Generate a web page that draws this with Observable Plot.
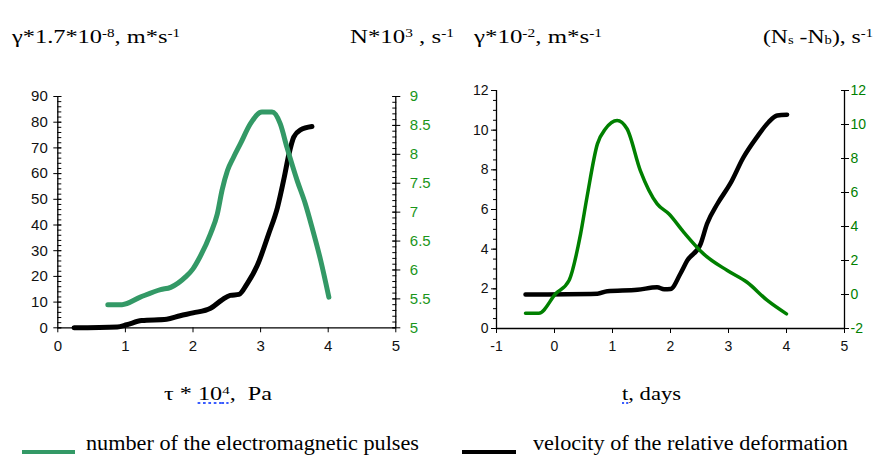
<!DOCTYPE html>
<html><head><meta charset="utf-8">
<script src="https://cdn.jsdelivr.net/npm/d3@7"></script>
<script src="https://cdn.jsdelivr.net/npm/@observablehq/plot@0.6"></script>
<style>
body{margin:0;background:#fff;}
#wrap{position:relative;width:893px;height:465px;overflow:hidden;background:#fff;font-family:"Liberation Serif","Times New Roman",serif;color:#000;}
.t{position:absolute;white-space:nowrap;transform-origin:0 0;}
.h{font-size:19px;line-height:19px;top:27px;}
.a{font-size:18px;line-height:18px;top:385px;}
.l{font-size:20px;line-height:20px;top:433px;}
.t sup{font-size:0.62em;vertical-align:0.5em;line-height:0;}
.t sub{font-size:0.62em;vertical-align:-0.05em;line-height:0;}
.sq{text-decoration:underline dotted #3a5cff;text-underline-offset:3px;}
.sw{position:absolute;height:4px;top:450px;}
#p1{position:absolute;left:0;top:80px;}
#p2{position:absolute;left:450px;top:80px;}
</style></head>
<body>
<div id="wrap">
  <div class="t h" data-w="168" style="left:12px">γ*1.7*10<sup>-8</sup>, m*s<sup>-1</sup></div>
  <div class="t h" data-w="104" style="left:350px">N*10<sup>3</sup> , s<sup>-1</sup></div>
  <div class="t h" data-w="128" style="left:474px">γ*10<sup>-2</sup>, m*s<sup>-1</sup></div>
  <div class="t h" data-w="110" style="left:763px">(N<sub>s</sub> -N<sub>b</sub>), s<sup>-1</sup></div>
  <div id="p1"></div>
  <div id="p2"></div>
  <div class="t a" data-w="108" style="left:164px">τ * <span class="sq">10<sup>4</sup></span>,&nbsp; Pa</div>
  <div class="t a" data-w="59" style="left:622px"><span class="sq">t</span>, days</div>
  <div class="sw" style="left:22px;width:53px;background:#339966"></div>
  <div class="t l" data-w="333" style="left:86px">number of the electromagnetic pulses</div>
  <div class="sw" style="left:462px;width:54px;background:#000"></div>
  <div class="t l" data-w="315" style="left:533px">velocity of the relative deformation</div>
</div>
<script>
// ---- Left panel data: tau*10^4, Pa ----
const tauPulses = [0.74, 0.95, 1.22, 1.52, 1.67, 1.89, 2.0, 2.1, 2.26, 2.36, 2.43, 2.51, 2.6, 2.7, 2.85, 3.02, 3.17, 3.29, 3.39, 3.54, 3.66, 3.76, 3.89, 4.01];
const pulsesN = [5.40, 5.40, 5.53, 5.66, 5.70, 5.88, 6.02, 6.22, 6.63, 6.97, 7.38, 7.72, 7.95, 8.18, 8.53, 8.73, 8.73, 8.53, 8.12, 7.55, 7.15, 6.74, 6.16, 5.53];
const tauVel = [0.24, 0.88, 1.02, 1.24, 1.61, 1.81, 2.0, 2.26, 2.43, 2.55, 2.68, 2.80, 2.95, 3.12, 3.25, 3.35, 3.42, 3.49, 3.59, 3.76];
const velGamma1 = [0, 0.3, 1.2, 2.8, 3.3, 4.7, 5.8, 7.6, 10.9, 12.6, 13.0, 17.1, 24.2, 36.6, 46.9, 58.6, 67.7, 74.2, 77.0, 78.3];
// ---- Right panel data: t, days ----
const dayPulses = [-0.5, -0.27, 0.02, 0.25, 0.45, 0.56, 0.74, 0.88, 1.08, 1.25, 1.48, 1.77, 1.97, 2.23, 2.57, 2.98, 3.32, 3.67, 4.0];
const pulsesDiff = [-1.1, -1.1, 0.04, 0.82, 3.57, 5.72, 8.86, 9.75, 10.24, 9.75, 7.29, 5.33, 4.75, 3.66, 2.39, 1.41, 0.72, -0.35, -1.14];
const dayVel = [-0.5, 0.74, 0.91, 1.43, 1.77, 1.89, 2.0, 2.17, 2.29, 2.52, 2.63, 2.81, 3.03, 3.26, 3.49, 3.69, 3.84, 4.01];
const velGamma2 = [1.71, 1.75, 1.88, 1.95, 2.08, 1.98, 1.99, 2.76, 3.43, 4.27, 5.28, 6.29, 7.30, 8.64, 9.65, 10.4, 10.74, 10.78];
// ---- Tick values ----
const x1Ticks = [0, 1, 2, 3, 4, 5];
const y1Ticks = [0, 10, 20, 30, 40, 50, 60, 70, 80, 90];
const y1Minor = d3.range(0, 91, 2);
const r1Ticks = [5, 5.5, 6, 6.5, 7, 7.5, 8, 8.5, 9];
const r1Minor = d3.range(50, 91).map(i => i / 10);
const x2Ticks = [-1, 0, 1, 2, 3, 4, 5];
const y2Ticks = [0, 2, 4, 6, 8, 10, 12];
const y2Minor = d3.range(0, 25).map(i => i / 2);
const r2Ticks = [-2, 0, 2, 4, 6, 8, 10, 12];

const fmt = v => String(+v.toFixed(2));
const font1 = {fontFamily: "'Liberation Sans', Arial, sans-serif", fontSize: "15px", color: "#000", background: "#fff", overflow: "visible"};
const font2 = {fontFamily: "'Liberation Sans', Arial, sans-serif", fontSize: "14px", color: "#000", background: "#fff", overflow: "visible"};

// secondary axis mappings
const map1 = d3.scaleLinear([5, 9], [0, 90]);
const map2 = d3.scaleLinear([-2, 12], [0, 12]);

const left = Plot.plot({
  width: 440, height: 290,
  marginLeft: 57.3, marginRight: 44.7, marginTop: 16, marginBottom: 42.7,
  x: {domain: [0, 5]},
  y: {domain: [0, 90]},
  style: font1,
  marks: [
    Plot.ruleY([0], {stroke: "#000", strokeWidth: 1.3}),
    Plot.ruleX([0], {stroke: "#000", strokeWidth: 1.3}),
    Plot.ruleX([5], {stroke: "#000", strokeWidth: 1.3}),
    Plot.axisX({ticks: x1Ticks, tickSize: 5, fill: "none", label: null}),
    Plot.axisX({ticks: x1Ticks, tickSize: 0, tickPadding: 13, stroke: "none", label: null, tickFormat: fmt, fill: "#111"}),
    Plot.axisY({ticks: y1Ticks, tickSize: 8, dx: 4, fill: "none", label: null}),
    Plot.axisY({ticks: y1Minor, tickSize: 4, dx: 4, fill: "none", label: null}),
    Plot.axisY({ticks: y1Ticks, tickSize: 0, tickPadding: 10, stroke: "none", label: null, tickFormat: fmt, fill: "#111"}),
    Plot.axisY({anchor: "right", ticks: r1Ticks.map(map1), tickSize: 8, dx: -4, fill: "none", label: null}),
    Plot.axisY({anchor: "right", ticks: r1Minor.map(map1), tickSize: 4, dx: -4, fill: "none", label: null}),
    Plot.axisY({anchor: "right", ticks: r1Ticks.map(map1), tickSize: 0, tickPadding: 14, stroke: "none", label: null,
      tickFormat: d => fmt(map1.invert(d)), fill: "#1a961a"}),
    Plot.line(tauVel.map((x, i) => ({x, y: velGamma1[i]})), {x: "x", y: "y", stroke: "#000", strokeWidth: 5, curve: "monotone-x", strokeLinecap: "round"}),
    Plot.line(tauPulses.map((x, i) => ({x, y: map1(pulsesN[i])})), {x: "x", y: "y", stroke: "#339966", strokeWidth: 5, curve: "monotone-x", strokeLinecap: "round"})
  ]
});
document.getElementById("p1").append(left);

const right = Plot.plot({
  width: 440, height: 290,
  marginLeft: 46, marginRight: 46, marginTop: 10, marginBottom: 42,
  x: {domain: [-1, 5]},
  y: {domain: [0, 12]},
  style: font2,
  marks: [
    Plot.ruleY([0], {stroke: "#000", strokeWidth: 1.3}),
    Plot.ruleX([-1], {stroke: "#000", strokeWidth: 1.3}),
    Plot.ruleX([5], {stroke: "#000", strokeWidth: 1.3}),
    Plot.axisX({ticks: x2Ticks, tickSize: 5, fill: "none", label: null}),
    Plot.axisX({ticks: x2Ticks, tickSize: 0, tickPadding: 13, stroke: "none", label: null, tickFormat: fmt, fill: "#111"}),
    Plot.axisY({ticks: y2Ticks, tickSize: 5, fill: "none", label: null}),
    Plot.axisY({ticks: y2Minor, tickSize: 3, fill: "none", label: null}),
    Plot.axisY({ticks: y2Ticks, tickSize: 0, tickPadding: 8, stroke: "none", label: null, tickFormat: fmt, fill: "#111"}),
    Plot.axisY({anchor: "right", ticks: r2Ticks.map(map2), tickSize: 8, dx: -4, fill: "none", label: null}),
    Plot.axisY({anchor: "right", ticks: r2Ticks.map(map2), tickSize: 0, tickPadding: 6, stroke: "none", label: null,
      tickFormat: d => fmt(map2.invert(d)), fill: "#008000"}),
    Plot.line(dayVel.map((x, i) => ({x, y: velGamma2[i]})), {x: "x", y: "y", stroke: "#000", strokeWidth: 4.5, curve: "monotone-x", strokeLinecap: "round"}),
    Plot.line(dayPulses.map((x, i) => ({x, y: map2(pulsesDiff[i])})), {x: "x", y: "y", stroke: "#008000", strokeWidth: 3.5, curve: "monotone-x", strokeLinecap: "round"})
  ]
});
document.getElementById("p2").append(right);

// horizontally stretch the serif captions to the widths seen in the reference
document.querySelectorAll(".t[data-w]").forEach(el => {
  const w = el.getBoundingClientRect().width;
  const target = +el.dataset.w;
  if (w > 0) el.style.transform = `scaleX(${target / w})`;
});
</script>
</body></html>
